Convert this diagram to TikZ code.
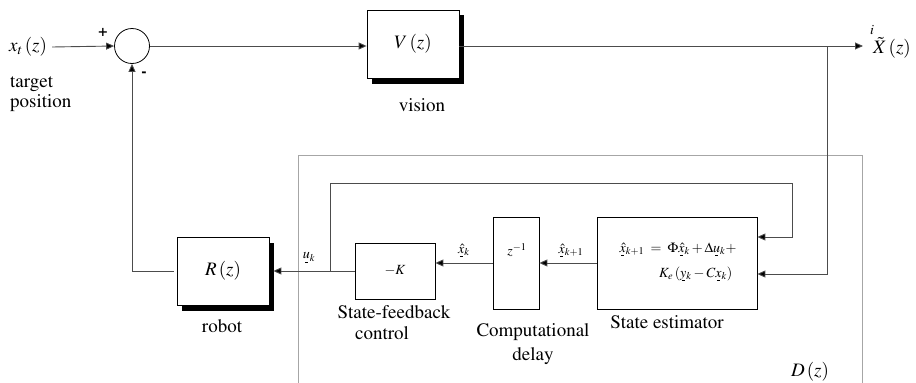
\documentclass[tikz,border=0pt]{standalone}
\usepackage[T1]{fontenc}
\usepackage{amsmath}
\usepackage{mathptmx}
\usetikzlibrary{arrows.meta}
\newcommand{\uvec}[1]{\mathord{\ooalign{$#1$\cr\hidewidth\smash{\raisebox{-3.5pt}{\rule{3.2pt}{0.6pt}}}\hidewidth\cr}}}
\tikzset{
  conn/.style={draw=black!70, line width=0.9pt},
  arr/.style={conn, -{Triangle[length=8pt,width=7pt,fill=black]}},
  blk/.style={draw=black, line width=0.8pt, fill=white, inner sep=0pt},
  lbl/.style={font=\fontsize{19}{20}\selectfont, inner sep=0pt},
  smlbl/.style={font=\fontsize{14}{15}\selectfont, inner sep=0pt},
  sum/.style={circle, draw=black, line width=0.8pt, minimum size=35pt, inner sep=0pt},
}
\begin{document}
\begin{tikzpicture}[x=1pt,y=-1pt]
\useasboundingbox (0,0) rectangle (916,383);
% D(z) frame
\draw[draw=black!35, line width=0.8pt] (298,400) -- (298,155) -- (862,155) -- (862,400);
\node[lbl] (dz) at (810,372) {$D\,(z)$};
% shadows
\fill[black] (372,15) rectangle (464,84);
\fill[black] (182,243) rectangle (274,311);
% blocks
\node[sum] (s) at (132,46) {};
\node[blk, minimum width=92pt, minimum height=68pt, lbl] (V) at (413,44) {$V\,(z)$};
\node[blk, minimum width=92pt, minimum height=68pt, lbl] (R) at (223,271) {$R\,(z)$};
\node[blk, minimum width=80pt, minimum height=56pt, smlbl] (K) at (395,271) {$-K$};
\node[blk, minimum width=46pt, minimum height=92pt] (zd) at (516,263) {};
\node[smlbl] (zdl) at (517,250) {$z^{-1}$};
\node[blk, minimum width=160pt, minimum height=92pt] (est) at (677,263) {};
\node[font=\fontsize{14}{25}\selectfont, align=right, inner sep=0pt] (eq) at (678,262)
  {$\uvec{\hat{x}}_{k+1} \;=\; \Phi\uvec{\hat{x}}_k + \Delta\uvec{u}_k +$\\
   $K_e\,(\uvec{y}_k - C\uvec{x}_k)$\hspace*{4pt}};
% texts
\node[lbl, anchor=west] (xt) at (9,47) {$x_t\,(z)$};
\node[lbl, anchor=north west, align=left] (tp) at (10,77) {target\\position};
\node[font=\bfseries\fontsize{16}{16}\selectfont, inner sep=0pt] (plus) at (103,32) {+};
\node[font=\bfseries\fontsize{16}{16}\selectfont, inner sep=0pt] (minus) at (144,74) {-};
\node[lbl] (vis) at (422,105) {vision};
\node[smlbl] (oi) at (872,30) {$i$};
\node[lbl, anchor=west] (out) at (873,48) {$\tilde{X}\,(z)$};
\node[lbl] (rob) at (222,326) {robot};
\node[lbl] (sf1) at (394,312) {State-feedback};
\node[lbl] (sf2) at (382,333) {control};
\node[lbl] (se) at (667,322) {State estimator};
\node[lbl] (cd1) at (533,332) {Computational};
\node[lbl] (cd2) at (533,356) {delay};
\node[smlbl] (uk) at (309,257) {$\uvec{u}_k$};
\node[smlbl] (xk) at (464,250) {$\uvec{\hat{x}}_k$};
\node[smlbl] (xk1) at (571,250) {$\uvec{\hat{x}}_{k+1}$};
% coordinates
\coordinate (br) at (827,46);
\coordinate (tip) at (863,46);
\coordinate (lp) at (330,271);
% connectors
\draw[arr] (xt.east) ++(5,0) -- (s.west);
\draw[arr] (s.east) -- (s.east -| V.west);
\draw[arr] (s.east -| V.east) -- (tip);
\draw[arr] (br) |- ([yshift=-11pt]est.east);
\draw[arr] (lp) |- (792,183) |- ([yshift=26pt]est.east);
\draw[arr] (est.west) -- (zd.east);
\draw[arr] (zd.west) -- (zd.west -| K.east);
\draw[arr] (K.west) -- ([xshift=4pt]R.east);
\draw[arr] ([xshift=-3pt]R.west) -| (s.south);
\end{tikzpicture}
\end{document}
